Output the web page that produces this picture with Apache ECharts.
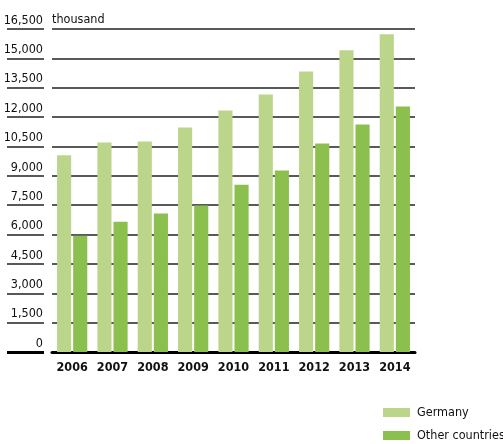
<!DOCTYPE html>
<html>
<head>
<meta charset="utf-8">
<script src="https://cdn.jsdelivr.net/npm/echarts@6/dist/echarts.min.js"></script>
<style>
  html, body { margin: 0; padding: 0; background: #fff; }
  #main { width: 503px; height: 444px; }
</style>
</head>
<body>
<div id="main"></div>
<script>
// data (thousand)
var years = ['2006', '2007', '2008', '2009', '2010', '2011', '2012', '2013', '2014']
var germany = [10050, 10700, 10750, 11470, 12340, 13160, 14330, 15410, 16230]
var otherCountries = [5940, 6650, 7080, 7490, 8550, 9270, 10650, 11620, 12540]
var seriesNames = ['Germany', 'Other countries']

var font = "'DejaVu Sans Condensed', 'Liberation Sans Narrow', sans-serif"
var lineColor = '#222'

var myChart = echarts.init(document.getElementById('main'))

var option = {
  animation: false,
  textStyle: { fontFamily: font },
  grid: { left: 52, right: 88, top: 29, bottom: 92 },
  legend: {
    orient: 'vertical',
    left: 383,
    top: 406,
    padding: 0,
    itemWidth: 27,
    itemHeight: 9,
    itemGap: 10,
    icon: 'rect',
    textStyle: { fontFamily: font, fontSize: 12.5, color: '#111', padding: [0, 0, 0, 2] },
    data: seriesNames
  },
  xAxis: {
    type: 'category',
    data: years,
    axisLine: { lineStyle: { color: '#000', width: 3 } },
    axisTick: { show: false },
    axisLabel: { fontFamily: font, fontSize: 12.5, fontWeight: 'bold', color: '#111', margin: 9, interval: 0 }
  },
  yAxis: [
    {
      // main axis: gridlines + unit name
      type: 'value',
      min: 0,
      max: 16500,
      interval: 1500,
      name: 'thousand',
      nameLocation: 'end',
      nameGap: 3,
      nameTextStyle: { fontFamily: font, fontSize: 12.5, color: '#111', align: 'left', verticalAlign: 'bottom' },
      axisLine: { show: false },
      axisTick: { show: false },
      axisLabel: { show: false },
      splitLine: { lineStyle: { color: lineColor, width: 1.5 } }
    },
    {
      // second axis only for the underlined tick labels
      type: 'value',
      position: 'left',
      offset: 8,
      min: 0,
      max: 16500,
      interval: 1500,
      axisLine: { show: false },
      axisTick: { show: true, length: 37, lineStyle: { color: lineColor, width: 1.5 } },
      axisLabel: {
        fontFamily: font,
        fontSize: 12.5,
        color: '#111',
        margin: 1,
        verticalAlign: 'bottom',
        padding: [0, 0, 2, 0],
        formatter: function (v) { return v.toLocaleString('en-US') }
      },
      splitLine: { show: false }
    },
    {
      // thicker underline under the 0 label
      type: 'value',
      position: 'left',
      offset: 8,
      min: 0,
      max: 16500,
      axisLine: { show: false },
      axisTick: { show: true, customValues: [0], length: 37, lineStyle: { color: '#000', width: 3 } },
      axisLabel: { show: false },
      splitLine: { show: false }
    }
  ],
  series: [
    {
      name: seriesNames[0],
      type: 'bar',
      data: germany,
      itemStyle: { color: '#bbd68b' },
      barGap: '14%',
      barCategoryGap: '25%'
    },
    {
      name: seriesNames[1],
      type: 'bar',
      data: otherCountries,
      itemStyle: { color: '#8cc04e' }
    }
  ]
}

myChart.setOption(option)
</script>
</body>
</html>
